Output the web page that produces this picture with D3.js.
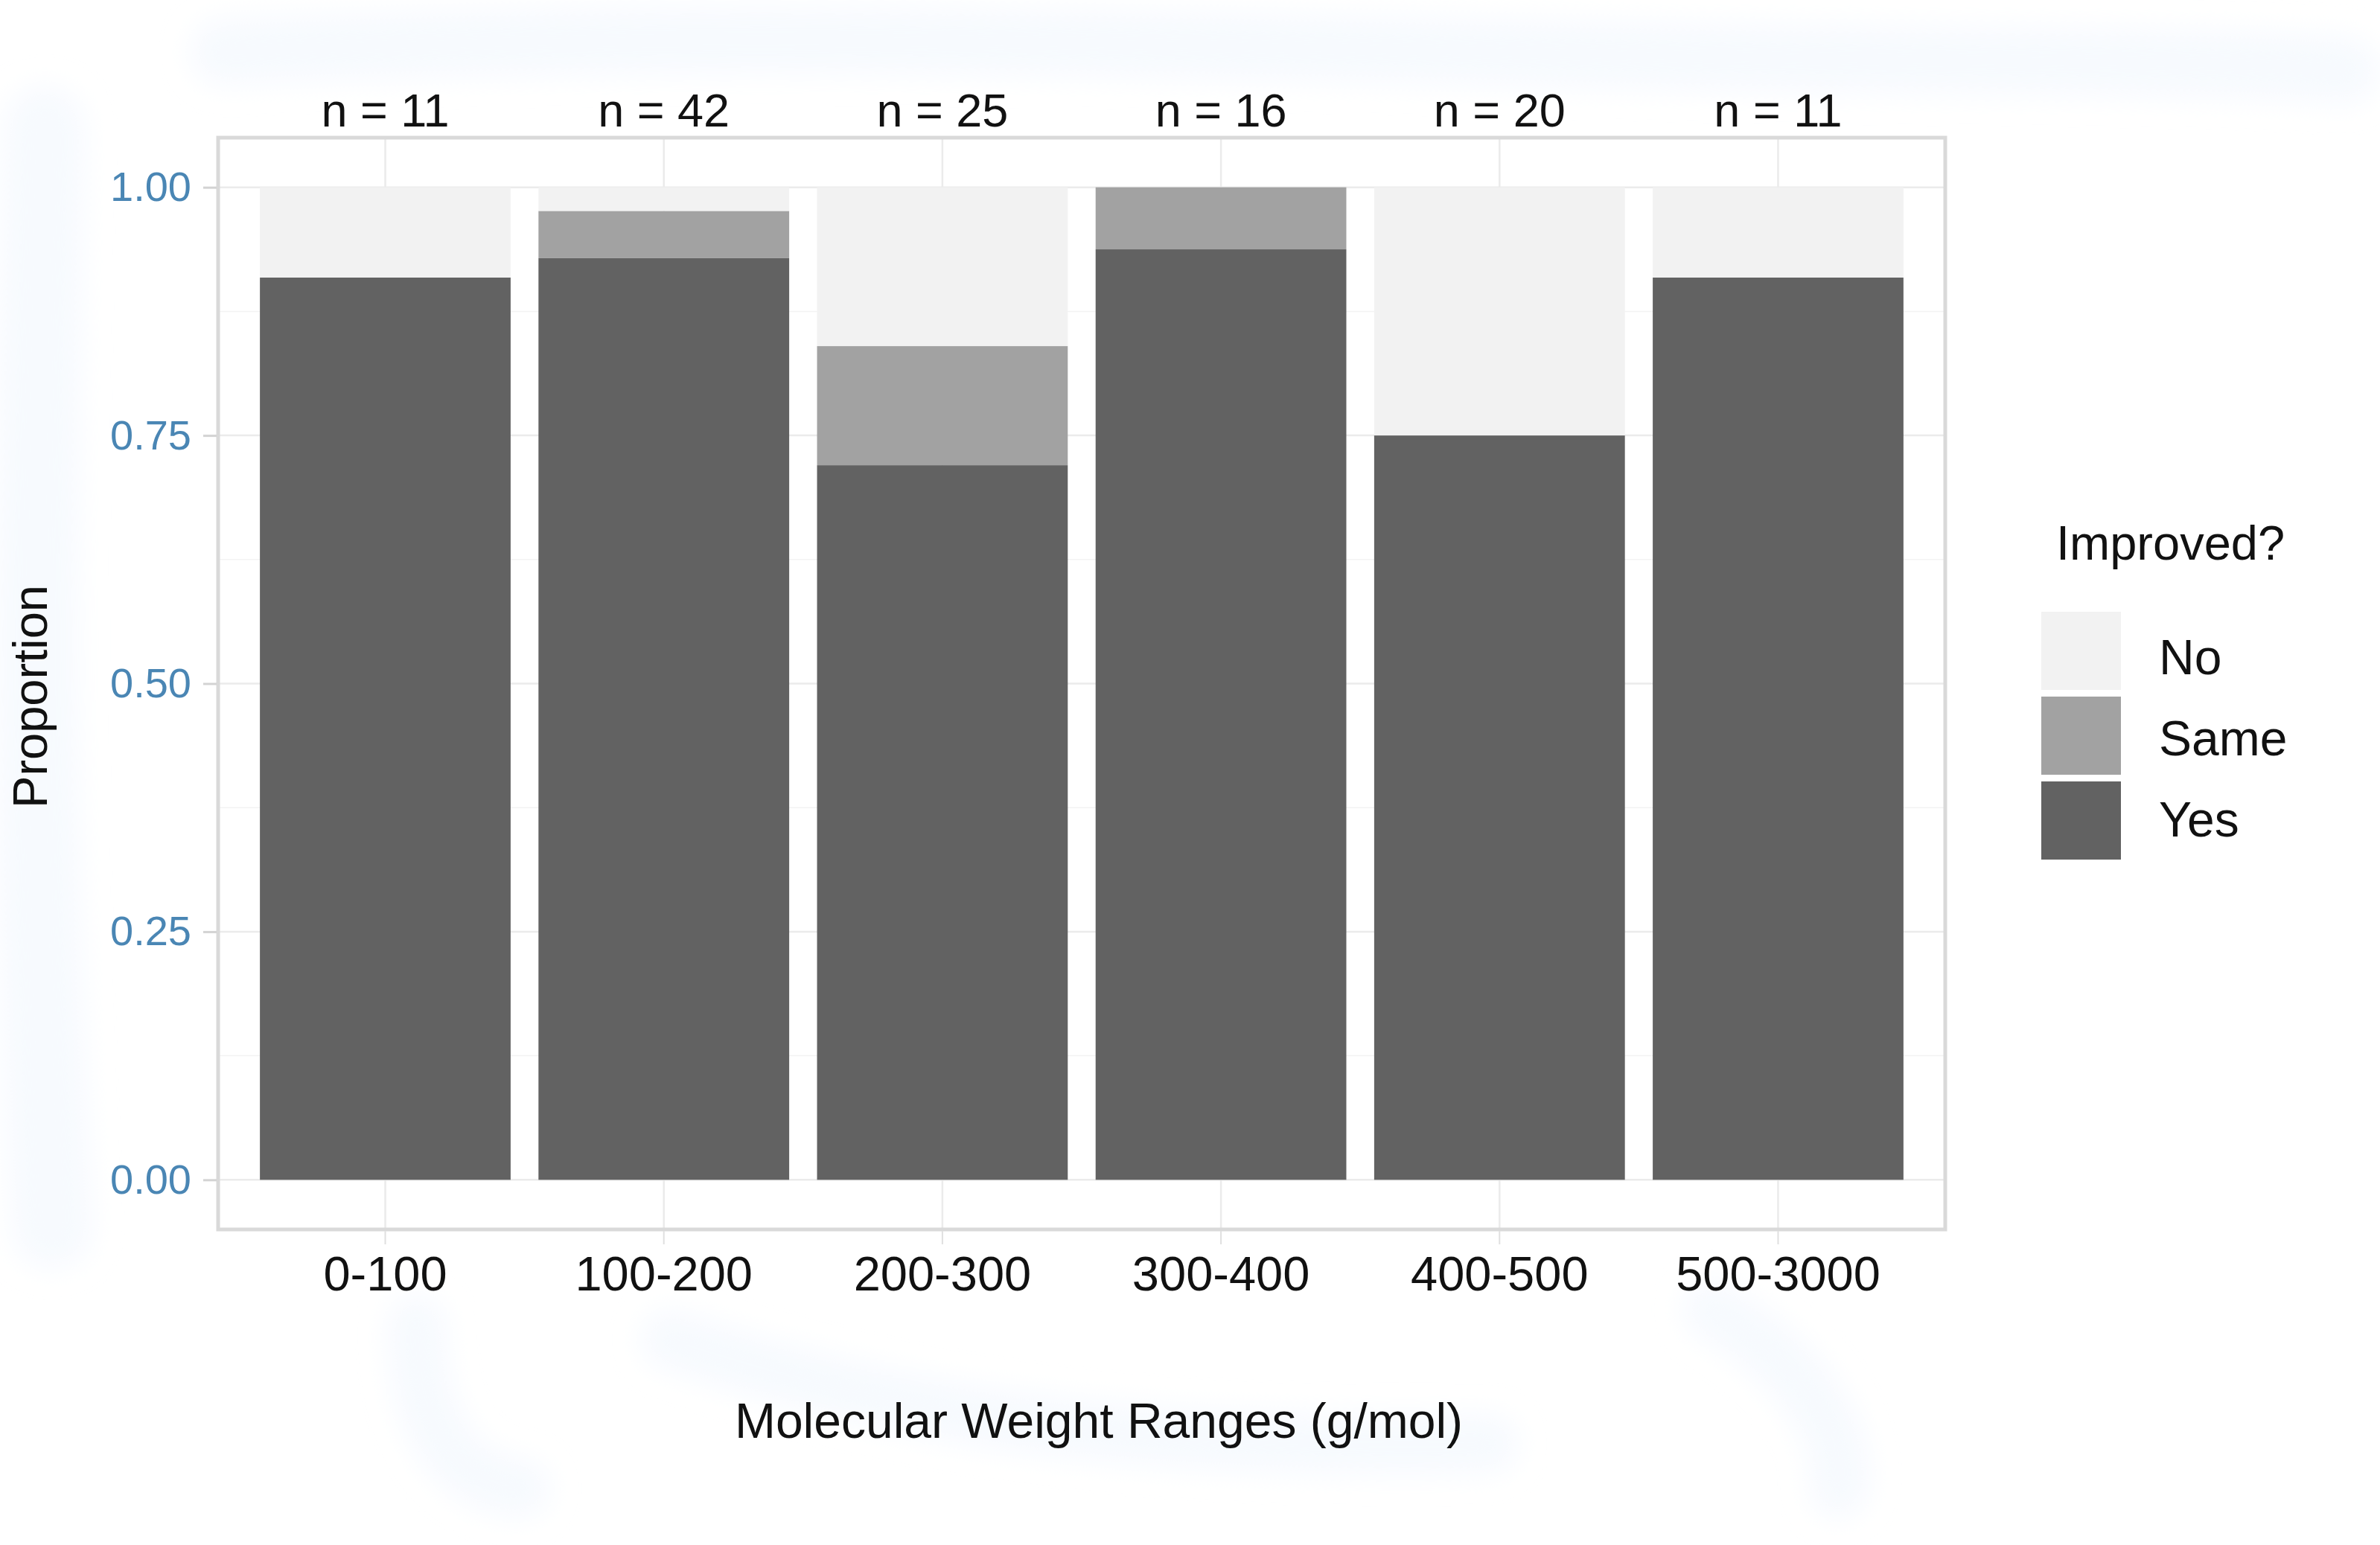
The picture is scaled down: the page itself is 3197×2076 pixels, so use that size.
<!DOCTYPE html>
<html>
<head>
<meta charset="utf-8">
<script src="https://cdn.jsdelivr.net/npm/d3@7"></script>
<style>
  html, body { margin: 0; padding: 0; background: #ffffff; }
  svg { display: block; }
  text { font-family: "Liberation Sans", Arial, sans-serif; }
</style>
</head>
<body>
<svg id="chart" width="3197" height="2076"></svg>
<script>
// ---- data ----
const categories = ["0-100", "100-200", "200-300", "300-400", "400-500", "500-3000"];
const countYes  = [10, 39, 18, 15, 15, 10];
const countSame = [0, 2, 3, 1, 0, 0];
const countNo   = [1, 1, 4, 0, 5, 1];
const totals    = [11, 42, 25, 16, 20, 11];
const legendLevels = ["No", "Same", "Yes"];
const yTicks = [0, 0.25, 0.5, 0.75, 1];
const yMinorTicks = [0.125, 0.375, 0.625, 0.875];

// ---- layout ----
const W = 3197, H = 2076;
const panel = { left: 293, right: 2613, top: 185, bottom: 1652 };
const fills = { No: "#f2f2f2", Same: "#a2a2a2", Yes: "#626262" };

const svg = d3.select("#chart");

// faint background brush marks
const defs = svg.append("defs");
defs.append("filter").attr("id", "soft").append("feGaussianBlur").attr("stdDeviation", 18);
const bg = svg.append("g").attr("fill", "none").attr("stroke", "#f7fafe")
  .attr("stroke-linecap", "round").attr("filter", "url(#soft)");
bg.append("path").attr("d", "M300,70 C900,40 1600,60 2200,75 C2700,85 3000,80 3150,95").attr("stroke-width", 90);
bg.append("path").attr("d", "M60,170 C50,600 40,1100 70,1650").attr("stroke-width", 110);
bg.append("path").attr("d", "M560,1780 C560,1900 600,1990 700,2000 M900,1800 C1200,1900 1500,1950 2000,1940 M2300,1760 C2450,1850 2480,1950 2470,2000").attr("stroke-width", 80);

const rows = categories.map((c, i) => ({
  cat: c,
  Yes: countYes[i] / totals[i],
  Same: countSame[i] / totals[i],
  No: countNo[i] / totals[i],
  n: totals[i]
}));

const x = d3.scaleBand()
  .domain(categories)
  .range([panel.left, panel.right])
  .paddingInner(0.1)
  .paddingOuter(0.15);

const y = d3.scaleLinear()
  .domain([-0.05, 1.05])
  .range([panel.bottom, panel.top]);

// panel background
svg.append("rect")
  .attr("x", panel.left).attr("y", panel.top)
  .attr("width", panel.right - panel.left).attr("height", panel.bottom - panel.top)
  .attr("fill", "#ffffff");

// grid lines
const grid = svg.append("g");
grid.selectAll("line.minor").data(yMinorTicks).join("line")
  .attr("x1", panel.left).attr("x2", panel.right)
  .attr("y1", d => y(d)).attr("y2", d => y(d))
  .attr("stroke", "#f3f3f3").attr("stroke-width", 1.5);
grid.selectAll("line.major").data(yTicks).join("line")
  .attr("x1", panel.left).attr("x2", panel.right)
  .attr("y1", d => y(d)).attr("y2", d => y(d))
  .attr("stroke", "#ebebeb").attr("stroke-width", 2.5);
grid.selectAll("line.vx").data(categories).join("line")
  .attr("x1", d => x(d) + x.bandwidth() / 2).attr("x2", d => x(d) + x.bandwidth() / 2)
  .attr("y1", panel.top).attr("y2", panel.bottom)
  .attr("stroke", "#ebebeb").attr("stroke-width", 2.5);

// stacked bars
const stack = d3.stack().keys(["Yes", "Same", "No"]);
const series = stack(rows);
svg.append("g").selectAll("g").data(series).join("g")
  .attr("fill", d => fills[d.key])
  .selectAll("rect").data(d => d).join("rect")
  .attr("x", d => x(d.data.cat))
  .attr("width", x.bandwidth())
  .attr("y", d => y(d[1]))
  .attr("height", d => Math.max(0, y(d[0]) - y(d[1])));

// panel border
svg.append("rect")
  .attr("x", panel.left).attr("y", panel.top)
  .attr("width", panel.right - panel.left).attr("height", panel.bottom - panel.top)
  .attr("fill", "none").attr("stroke", "#d9d9d9").attr("stroke-width", 5);

// y axis
const yAxis = svg.append("g")
  .attr("transform", `translate(${panel.left - 2},0)`)
  .call(d3.axisLeft(y).tickValues(yTicks).tickFormat(d3.format(".2f")).tickSize(18).tickPadding(16));
yAxis.select(".domain").remove();
yAxis.selectAll(".tick line").attr("stroke", "#d3d3d3").attr("stroke-width", 3);
yAxis.selectAll(".tick text")
  .attr("font-size", 56).attr("fill", "#4a86b4")
  .style("font-family", "'Liberation Sans', Arial, sans-serif");

// x axis
const xAxis = svg.append("g")
  .attr("transform", `translate(0,${panel.bottom + 2})`)
  .call(d3.axisBottom(x).tickSize(18).tickPadding(16));
xAxis.select(".domain").remove();
xAxis.selectAll(".tick line").attr("stroke", "#e0e0e0").attr("stroke-width", 2);
xAxis.selectAll(".tick text")
  .attr("font-size", 65).attr("fill", "#111111")
  .style("font-family", "'Liberation Sans', Arial, sans-serif");

// n labels above the panel
svg.append("g").selectAll("text").data(rows).join("text")
  .attr("x", d => x(d.cat) + x.bandwidth() / 2)
  .attr("y", 170)
  .attr("text-anchor", "middle")
  .attr("font-size", 63)
  .attr("fill", "#111111")
  .text(d => `n = ${d.n}`);

// axis titles
svg.append("text")
  .attr("x", 1476).attr("y", 1932)
  .attr("text-anchor", "middle")
  .attr("font-size", 66).attr("fill", "#111111")
  .text("Molecular Weight Ranges (g/mol)");

svg.append("text")
  .attr("transform", "translate(63,936) rotate(-90)")
  .attr("text-anchor", "middle")
  .attr("font-size", 65).attr("fill", "#111111")
  .text("Proportion");

// legend
const legend = svg.append("g");
legend.append("text")
  .attr("x", 2762).attr("y", 752)
  .attr("font-size", 65).attr("fill", "#111111")
  .text("Improved?");
const keyX = 2742, keyY0 = 822, keyW = 107, keyH = 105, keyStep = 114;
const items = legend.selectAll("g.item").data(legendLevels).join("g")
  .attr("transform", (d, i) => `translate(${keyX},${keyY0 + i * keyStep})`);
items.append("rect")
  .attr("width", keyW).attr("height", keyH)
  .attr("fill", d => fills[d]);
items.append("text")
  .attr("x", 2900 - keyX).attr("y", (d, i) => keyH / 2 + 31 - i * 5)
  .attr("font-size", 66).attr("fill", "#111111")
  .text(d => d);
</script>
</body>
</html>
